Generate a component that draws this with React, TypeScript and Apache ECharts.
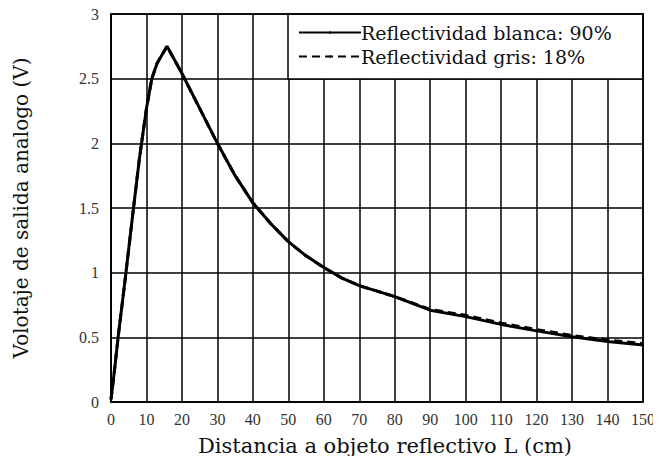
import React, { useEffect, useRef } from "react";
import * as echarts from "echarts";

const distances = [0, 1, 2, 4, 6, 8, 10, 11.5, 13, 15.8, 18, 20, 25, 30, 35, 40, 45, 50, 55, 60, 65, 70, 80, 90, 100, 110, 120, 130, 140, 150];
const whiteValues = [0.02, 0.25, 0.5, 0.95, 1.42, 1.88, 2.27, 2.5, 2.62, 2.75, 2.64, 2.54, 2.27, 2.0, 1.75, 1.54, 1.38, 1.24, 1.13, 1.04, 0.96, 0.9, 0.815, 0.71, 0.66, 0.6, 0.55, 0.505, 0.468, 0.44];
const grayValues = [0.02, 0.25, 0.5, 0.95, 1.42, 1.88, 2.27, 2.5, 2.62, 2.75, 2.64, 2.54, 2.27, 2.0, 1.75, 1.54, 1.38, 1.24, 1.13, 1.04, 0.96, 0.9, 0.815, 0.715, 0.67, 0.61, 0.56, 0.515, 0.478, 0.452];
const seriesNames = ["Reflectividad blanca: 90%", "Reflectividad gris: 18%"];
const xTitle = "Distancia a objeto reflectivo L (cm)";
const yTitle = "Volotaje de salida analogo (V)";

const TICK_FONT = "Liberation Serif";
const TITLE_FONT = "DejaVu Serif";

export default function App() {
  const ref = useRef<HTMLDivElement>(null);
  useEffect(() => {
    if (!ref.current) return;
    const chart = echarts.init(ref.current, null, { renderer: "svg" });
    chart.setOption({
      animation: false,
      backgroundColor: "#fff",
      grid: { left: 111, right: 18, top: 14, bottom: 54, containLabel: false, outerBoundsMode: "none" },
      xAxis: {
        type: "value",
        min: 0,
        max: 150,
        interval: 10,
        name: xTitle,
        nameLocation: "middle",
        nameGap: 33,
        nameTextStyle: { fontFamily: TITLE_FONT, fontSize: 21, color: "#111", padding: [0, 0, 0, 16] },
        axisLine: { show: true, lineStyle: { color: "#000", width: 1.5 } },
        axisTick: { show: false },
        axisLabel: { fontFamily: TICK_FONT, fontSize: 16, color: "#333", margin: 9 },
        splitLine: { show: true, lineStyle: { color: "#000", width: 1.5 } },
      },
      yAxis: {
        type: "value",
        min: 0,
        max: 3,
        interval: 0.5,
        name: yTitle,
        nameLocation: "middle",
        nameGap: 80,
        nameTextStyle: { fontFamily: TITLE_FONT, fontSize: 20, color: "#111" },
        axisLine: { show: true, lineStyle: { color: "#000", width: 1.5 } },
        axisTick: { show: false },
        axisLabel: { fontFamily: TICK_FONT, fontSize: 16, color: "#333", margin: 12 },
        splitLine: { show: true, lineStyle: { color: "#000", width: 1.5 } },
      },
      graphic: [
        {
          type: "rect",
          z: 5,
          shape: { x: 288, y: 14, width: 355, height: 65 },
          style: { fill: "#fff", stroke: "#000", lineWidth: 1.5 },
        },
        {
          type: "rect",
          z: 5,
          shape: { x: 111, y: 14, width: 532, height: 388 },
          style: { fill: "none", stroke: "#000", lineWidth: 1.5 },
        },
      ],
      legend: {
        orient: "vertical",
        left: 298,
        top: 23,
        z: 10,
        itemWidth: 62,
        itemHeight: 3,
        itemGap: 5,
        padding: 0,
        textStyle: { fontFamily: TITLE_FONT, fontSize: 19, color: "#111", padding: [0, 0, 0, -5] },
        data: seriesNames,
      },
      series: [
        {
          name: seriesNames[0],
          type: "line",
          symbol: "none",
          z: 3,
          data: distances.map((d, i) => [d, whiteValues[i]]),
          lineStyle: { color: "#000", width: 3 },
          itemStyle: { color: "#000" },
        },
        {
          name: seriesNames[1],
          type: "line",
          symbol: "none",
          z: 3,
          data: distances.map((d, i) => [d, grayValues[i]]),
          lineStyle: { color: "#000", width: 3, type: [8, 5] },
          itemStyle: { color: "#000" },
        },
      ],
    });
    return () => chart.dispose();
  }, []);
  return <div ref={ref} style={{ width: 661, height: 456, marginLeft: -8, marginTop: -8 }} />;
}
